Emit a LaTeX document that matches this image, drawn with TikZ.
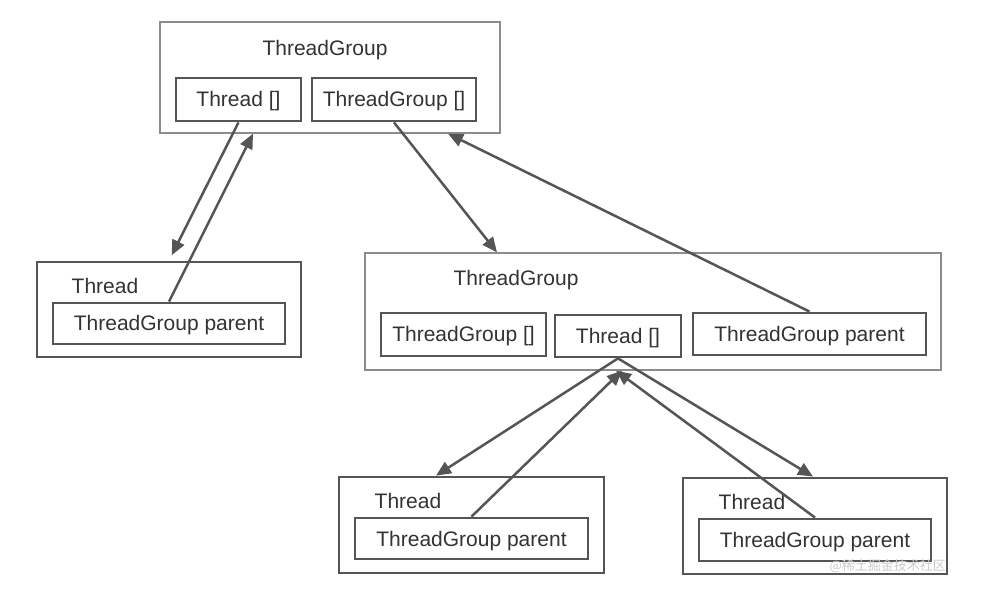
\documentclass[tikz,border=0pt]{standalone}
\usepackage{fontspec}
\setmainfont{Liberation Sans}
\newfontfamily\cjkfont{Noto Sans CJK SC}
\usetikzlibrary{arrows.meta}
\definecolor{linegray}{HTML}{555555}
\definecolor{framegray}{HTML}{8C8C8C}
\definecolor{textgray}{HTML}{333333}
\definecolor{markgray}{HTML}{CCCCCC}

\begin{document}
\begin{tikzpicture}[x=1pt,y=-1pt,
		frame/.style={draw=framegray, line width=1.3pt, inner sep=0pt},
		box/.style={draw=linegray, line width=2.8pt, inner sep=0pt, text=textgray, text height=15pt, text depth=0pt, font=\fontsize{21}{25}\selectfont},
		lbl/.style={text=textgray, inner sep=0pt, text height=15pt, text depth=0pt, font=\fontsize{21}{25}\selectfont},
		ref/.style={draw=linegray, line width=2.5pt, -{Triangle[length=15pt,width=13pt]}}]
		\fill[white] (0,0) rectangle (999,593);
		\useasboundingbox (0,0) rectangle (999,593);
		\node[frame, minimum width=340pt, minimum height=111pt] (tgtop) at (330,77.5) {};
		\node[lbl] (tgtoplbl) at (325,48) {ThreadGroup};
		\node[box, minimum width=125pt, minimum height=43pt] (tgtopthr) at (238.5,99.5) {Thread []};
		\node[box, minimum width=164pt, minimum height=43pt] (tgtopgrp) at (394,99.5) {ThreadGroup []};
		\node[box, minimum width=264pt, minimum height=95pt] (thleft) at (169,309.5) {};
		\node[lbl] (thleftlbl) at (105,286) {Thread};
		\node[box, minimum width=232pt, minimum height=41pt] (thleftpar) at (169,323.5) {ThreadGroup parent};
		\node[frame, minimum width=576pt, minimum height=117pt] (tgmid) at (653,311.5) {};
		\node[lbl] (tgmidlbl) at (516,278) {ThreadGroup};
		\node[box, minimum width=165pt, minimum height=43pt] (tgmidgrp) at (463.5,334.5) {ThreadGroup []};
		\node[box, minimum width=126pt, minimum height=42pt] (tgmidthr) at (618,336) {Thread []};
		\node[box, minimum width=233pt, minimum height=42pt] (tgmidpar) at (809.5,334) {ThreadGroup parent};
		\node[box, minimum width=265pt, minimum height=96pt] (thbl) at (471.5,525) {};
		\node[lbl] (thbllbl) at (408,501) {Thread};
		\node[box, minimum width=233pt, minimum height=41pt] (thblpar) at (471.5,538.5) {ThreadGroup parent};
		\node[box, minimum width=264pt, minimum height=96pt] (thbr) at (815,526) {};
		\node[lbl] (thbrlbl) at (752,502) {Thread};
		\node[box, minimum width=232pt, minimum height=42pt] (thbrpar) at (815,540) {ThreadGroup parent};
		\node[text=markgray, inner sep=0pt, anchor=east, font=\cjkfont\fontsize{13}{15}\selectfont] (mark) at (946,566) {@稀土掘金技术社区};
		\draw[ref, shorten >=6pt] (tgtopthr.south) -- (thleft.north);
		\draw[ref] (thleftpar.north) -- ([xshift=-77pt]tgtop.south);
		\draw[ref] (tgtopgrp.south) -- ([xshift=-156pt]tgmid.north);
		\draw[ref] (tgmidpar.north) -- ([xshift=118pt]tgtop.south);
		\draw[ref] (tgmidthr.south) -- ([xshift=-35.5pt]thbl.north);
		\draw[ref] (thblpar.north) -- ([xshift=-31pt]tgmid.south);
		\draw[ref] (tgmidthr.south) -- ([xshift=-2pt]thbr.north);
		\draw[ref] (thbrpar.north) -- ([xshift=-37pt]tgmid.south);
	\end{tikzpicture}
\end{document}
